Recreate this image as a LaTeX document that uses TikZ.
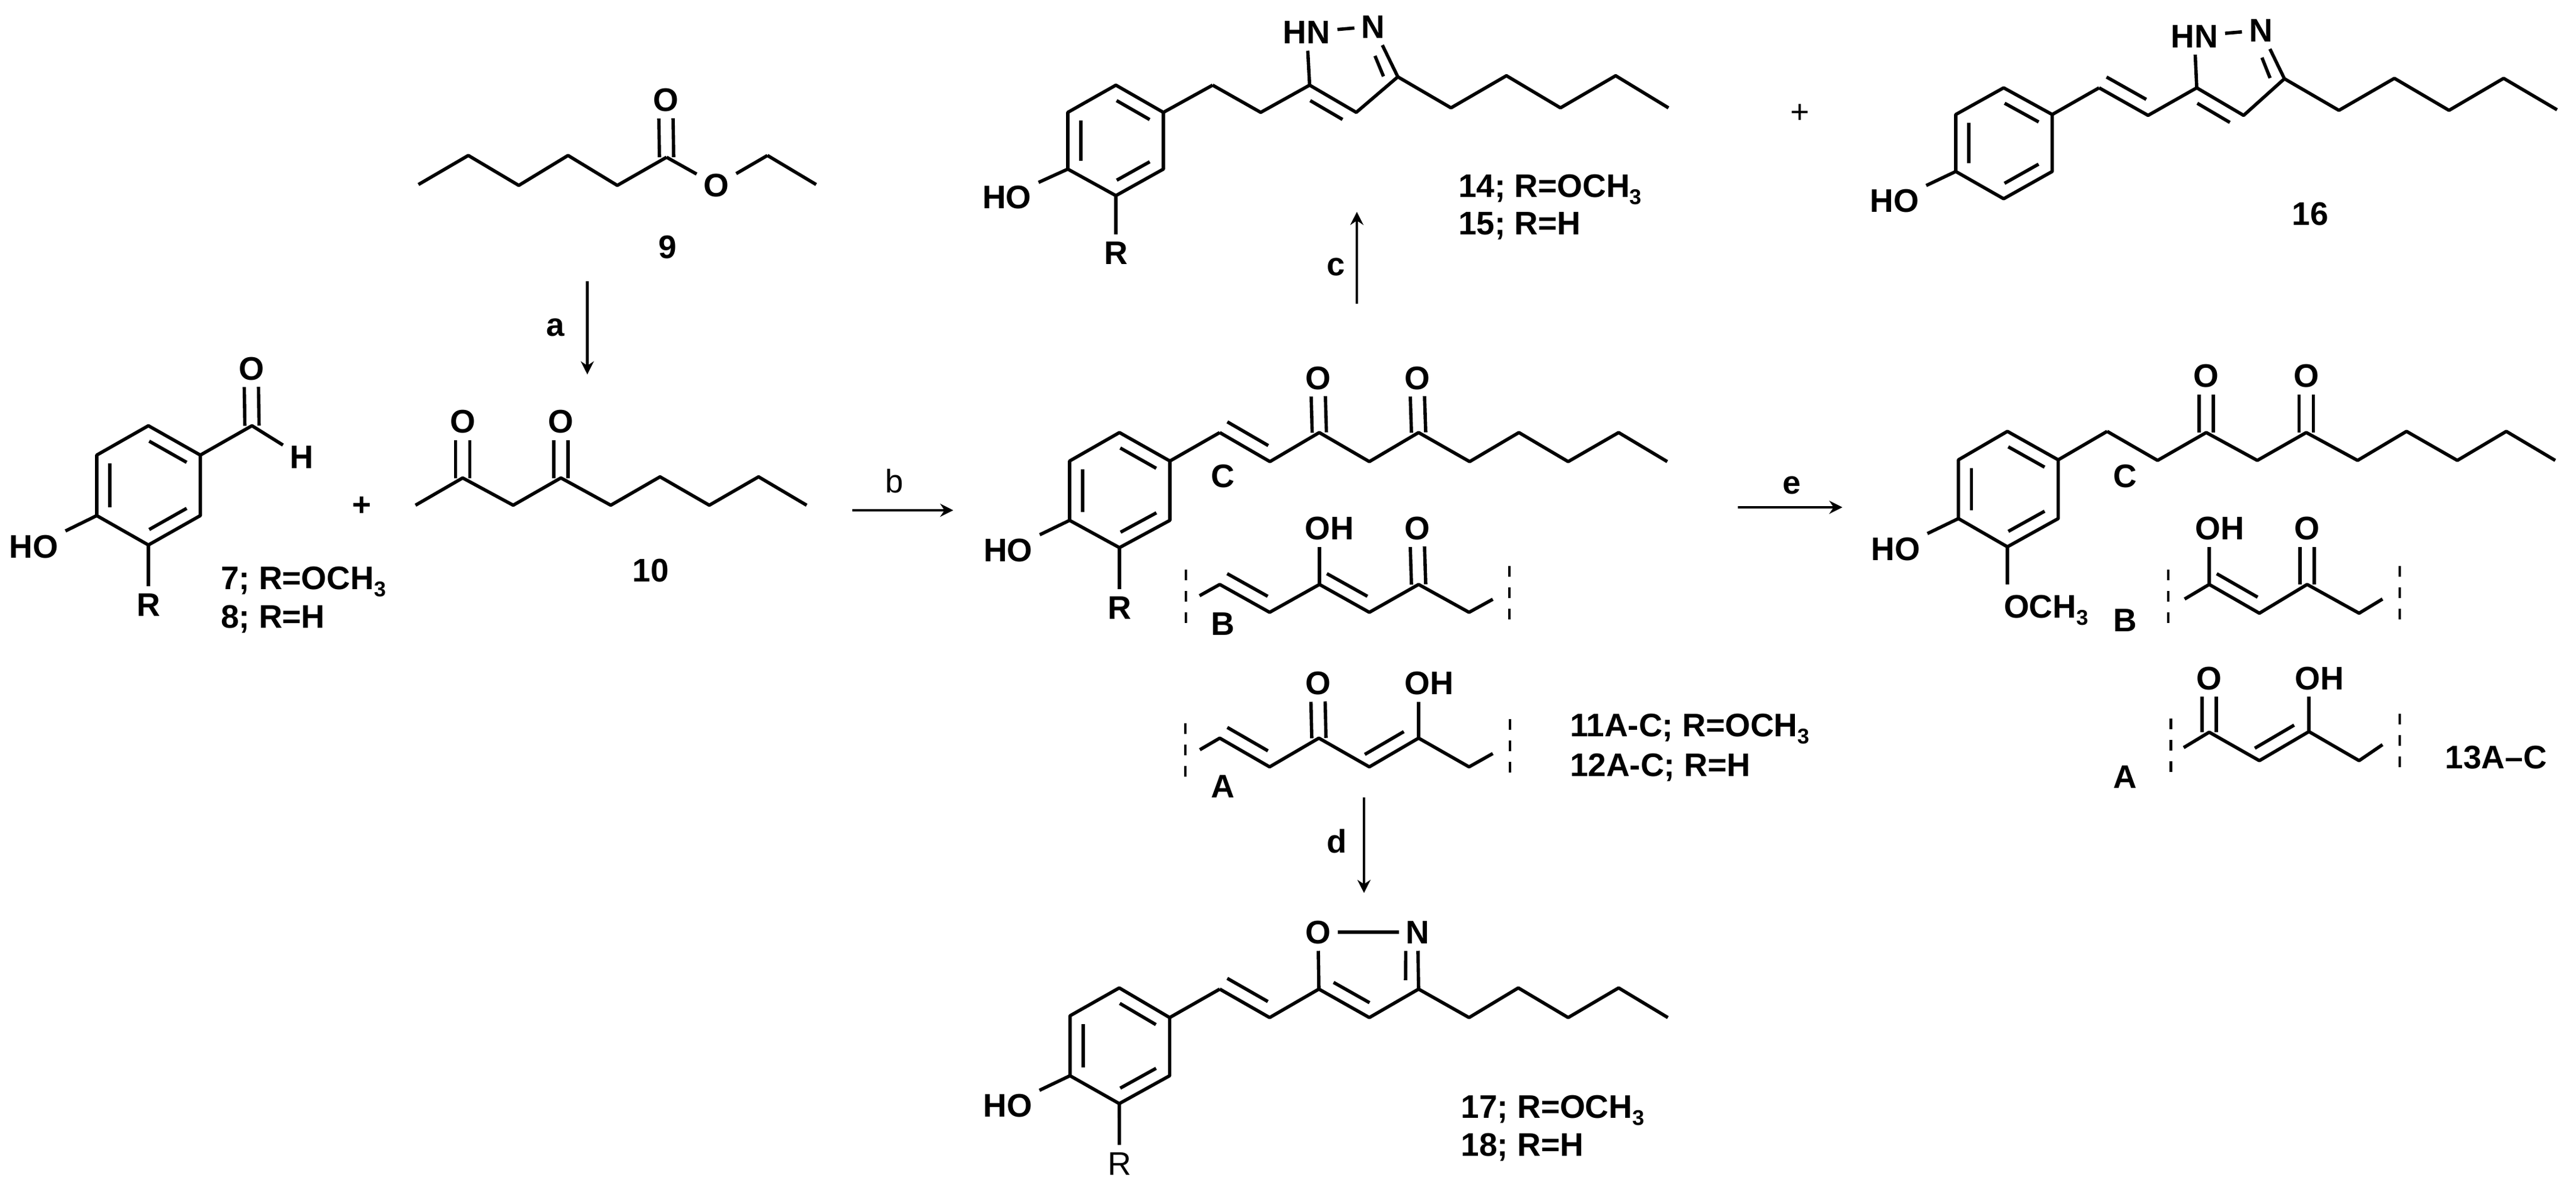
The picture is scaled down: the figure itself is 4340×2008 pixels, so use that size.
\documentclass[tikz,border=0pt]{standalone}
\usepackage{fontspec}
\setmainfont{Liberation Sans}
\usetikzlibrary{calc,arrows.meta}
\newcommand\atoms[2]{\foreach \xx/\yy [count=\ii] in {#2} {\coordinate (#1\ii) at (\xx,\yy);}}
\newcommand\chain[3]{\draw[bond] (#1#2) \foreach \ii in {#2,...,#3} { -- (#1\ii)};}
\newcommand\inL[4]{\draw[bond] ($(#1)!#3pt!(#2)!11pt!90:(#2)$) -- ($(#2)!#4pt!(#1)!11pt!-90:(#1)$);}
\newcommand\inR[4]{\draw[bond] ($(#1)!#3pt!(#2)!11pt!-90:(#2)$) -- ($(#2)!#4pt!(#1)!11pt!90:(#1)$);}
\newcommand\dbo[2]{\draw[bond] ($(#1)!6pt!90:(#2.south)$) -- ($(#2.south)!6pt!-90:(#1)$);
  \draw[bond] ($(#1)!6pt!-90:(#2.south)$) -- ($(#2.south)!6pt!90:(#1)$);}
\newcommand\ringc[1]{\draw[bond] (#11)--(#12)--(#13)--(#14)--(#15)--(#16)--cycle;
  \inR{#11}{#12}{7}{7}\inR{#13}{#14}{7}{7}\inR{#15}{#16}{7}{7}}
\newcommand\subt[1]{\raisebox{-0.22em}{\fontsize{18}{18}\selectfont #1}}
\tikzset{
  bond/.style={line width=2.8pt,line cap=butt,line join=round,black},
  atom/.style={inner sep=0pt,outer sep=6pt,text height=19.5pt,text depth=0pt,font=\fontsize{27.5}{30}\selectfont\bfseries},
  atomreg/.style={atom,font=\fontsize{27.5}{30}\selectfont},
  lab/.style={atom,outer sep=0pt},
  labw/.style={lab,anchor=west},
  lowc/.style={lab,text height=14.5pt},
  lowreg/.style={lowc,font=\fontsize{27.5}{30}\selectfont},
  reac/.style={line width=2.3pt,-{Stealth[length=11pt,width=11pt]}},
  cut/.style={line width=2.4pt,dash pattern=on 9pt off 9pt}
}
\begin{document}
\begin{tikzpicture}[x=0.5pt,y=-0.5pt]
\useasboundingbox (0,0) rectangle (4340,2008);
% ---- 9
\atoms{e}{705/311,789/262,874/312.5,957/262,1040/312.5,1123/265,1293/262,1375/311}
\node[atom] (Oe1) at (1122,168) {O};
\node[atom] (Oe2) at (1207,312) {O};
\chain{e}{1}{6}\chain{e}{7}{8}
\dbo{e6}{Oe1}
\draw[bond] (e6)--(Oe2);\draw[bond] (Oe2)--(e7);
\node[lab] (l9) at (1125,416) {9};
% ---- arrow a
\coordinate (aS) at (989.5,474);\coordinate (aE) at (989.5,631);
\draw[reac] (aS)--(aE);
\node[lowc] (la) at (936,552) {a};
% ---- 7/8
\atoms{v}{250/717.5,337.5/767,337.5/869,250/918.5,163/869,163/767}
\ringc{v}
\coordinate (vc) at (424.5,717.5);
\node[atom] (vO) at (423.5,620.6) {O};
\node[atom] (vH) at (508.6,770) {H};
\node[atom] (vHO) at (57,921) {HO};
\node[atom] (vR) at (250,1019) {R};
\draw[bond] (v2)--(vc)--(vH);
\dbo{vc}{vO}
\draw[bond] (v5)--(vHO);\draw[bond] (v4)--(vR);
\node[labw] (l7) at (372,974) {7; R=OCH\subt{3}};
\node[labw] (l8) at (372,1039) {8; R=H};
\node[lab] (plus1) at (610,850) {+};
% ---- 10
\atoms{d}{700/851.5,779.5/805.5,864.6/851.5,945/805.5,1029/851.5,1112/803.6,1195/851.5,1278/803.6,1359/851.5}
\chain{d}{1}{9}
\node[atom] (dO1) at (779.5,710) {O};
\node[atom] (dO2) at (945,710) {O};
\dbo{d2}{dO1}\dbo{d4}{dO2}
\node[lab] (l10) at (1096,961) {10};
% ---- arrow b
\coordinate (bS) at (1436,860);\coordinate (bE) at (1606,860);
\draw[reac] (bS)--(bE);
\node[atomreg,outer sep=0pt] (lb) at (1507,811) {b};
% ---- 14/15
\atoms{p}{1880/143.5,1960/189.4,1960/285,1880/329.7,1799/285,1799/189.4}
\ringc{p}
\atoms{q}{2043/143.5,2124/189.4,2206.4/143.5,2285/189.4,2355/129.5,2444.6/181.8,2538/127.6,2629/181.8,2722/127.6,2811/181.8}
\draw[bond] (p2)--(q1);\chain{q}{1}{10}
\node[atom] (qHN) at (2201.6,54) {HN};
\node[atom] (qN) at (2313.6,44.6) {N};
\coordinate (qNb) at (2333,76.5);
\draw[bond] (q3)--(qHN);\draw[bond] (qHN)--(qN);\draw[bond] (q5)--(qN);
\inL{q5}{qNb}{5}{5}
\inL{q4}{q3}{7}{7}
\node[atom] (pHO) at (1696.5,331.6) {HO};
\node[atom] (pR) at (1880,426) {R};
\draw[bond] (p5)--(pHO);\draw[bond] (p4)--(pR);
\node[labw] (l14) at (2457,312.5) {14; R=OCH\subt{3}};
\node[labw] (l15) at (2457,376) {15; R=H};
% ---- arrow c
\coordinate (cS) at (2286,511.5);\coordinate (cE) at (2286,357);
\draw[reac] (cS)--(cE);
\node[lowc] (lc) at (2251,450) {c};
% ---- 16
\node[atomreg,outer sep=0pt] (plus2) at (3033,188) {+};
\atoms{s}{3375.7/148,3457.5/193,3457.5/289,3375.7/335,3295/289,3295/193}
\ringc{s}
\atoms{t}{3536.5/148,3619/194.5,3701/148,3780/194.5,3848.7/132.7,3940.5/186,4034/132,4126/186,4218/132,4308/185}
\draw[bond] (s2)--(t1);\chain{t}{1}{10}
\inL{t1}{t2}{1}{8}
\node[atom] (tHN) at (3697,60.6) {HN};
\node[atom] (tN) at (3809,51) {N};
\coordinate (tNb) at (3827.6,79.7);
\draw[bond] (t3)--(tHN);\draw[bond] (tHN)--(tN);\draw[bond] (t5)--(tN);
\inL{t5}{tNb}{5}{5}
\inL{t4}{t3}{7}{7}
\node[atom] (sHO) at (3192,338) {HO};
\draw[bond] (s5)--(sHO);
\node[lab] (l16) at (3892,360) {16};
% ---- 11/12 C
\atoms{g}{1886/729,1971/777,1971/877,1886/923,1802/877,1802/777}
\ringc{g}
\atoms{h}{2055/729,2139.5/778,2222.7/729,2307/778,2390/729,2476/778,2559/729,2642/778,2727/729,2809/778}
\draw[bond] (g2)--(h1);\chain{h}{1}{10}
\inL{h1}{h2}{1}{8}
\node[atom] (hO1) at (2221,636.5) {O};
\node[atom] (hO2) at (2388,636.5) {O};
\dbo{h3}{hO1}\dbo{h5}{hO2}
\node[lab] (lC1) at (2060,802) {C};
\node[atom] (gHO) at (1698.5,927) {HO};
\node[atom] (gR) at (1886,1024) {R};
\draw[bond] (g5)--(gHO);\draw[bond] (g4)--(gR);
% ---- B of 11/12
\atoms{k}{2021/1004,2055/985,2139/1032,2223/985,2307/1032,2390/985,2475/1032,2515/1010}
\chain{k}{1}{8}
\inL{k2}{k3}{1}{8}\inL{k4}{k5}{1}{8}
\node[atom] (kOH) at (2240,890) {OH};
\node[atom] (kO) at (2388,890) {O};
\draw[bond] (k4)--(k4|-kOH.south);\dbo{k6}{kO}
\coordinate (kd1) at (1998,960);\coordinate (kd2) at (1998,1055);
\coordinate (kd3) at (2543,953.5);\coordinate (kd4) at (2543,1048);
\draw[cut] (kd1)--(kd2);\draw[cut] (kd3)--(kd4);
\node[lab] (lB1) at (2060,1051) {B};
% ---- A of 11/12
\atoms{m}{2021.5/1263.6,2055/1244,2139/1292.5,2222/1244,2307/1292.5,2390/1244,2475/1292.5,2515/1270}
\chain{m}{1}{8}
\inL{m2}{m3}{1}{8}\inL{m5}{m6}{2}{8}
\node[atom] (mO) at (2220.6,1151) {O};
\node[atom] (mOH) at (2408,1151) {OH};
\dbo{m4}{mO}\draw[bond] (m6)--(m6|-mOH.south);
\coordinate (md1) at (1997,1218.6);\coordinate (md2) at (1997,1315);
\coordinate (md3) at (2544,1212);\coordinate (md4) at (2544,1308.6);
\draw[cut] (md1)--(md2);\draw[cut] (md3)--(md4);
\node[lab] (lA1) at (2060,1325) {A};
\node[labw] (l11) at (2645,1222) {11A-C; R=OCH\subt{3}};
\node[labw] (l12) at (2645,1289) {12A-C; R=H};
% ---- arrow d
\coordinate (dS) at (2298,1344);\coordinate (dE) at (2298,1505);
\draw[reac] (dS)--(dE);
\node[lab] (ld) at (2252,1418) {d};
% ---- 17/18
\atoms{w}{1885.7/1665,1970.6/1715,1970.6/1813,1885.7/1860,1802.7/1813,1802.7/1712}
\ringc{w}
\atoms{y}{2055/1667,2139/1715,2222/1667,2307/1715,2390/1667,2475/1715,2558/1665,2642/1715,2727/1665,2810/1715}
\draw[bond] (w2)--(y1);\chain{y}{1}{10}
\inL{y1}{y2}{1}{8}\inL{y3}{y4}{8}{6}
\node[atom] (yO) at (2220.6,1571) {O};
\node[atom] (yN) at (2388.4,1571) {N};
\draw[bond] (y3)--(yO);\draw[bond] (yO)--(yN);\draw[bond] (y5)--(yN);
\draw[bond] ($(y5)+(-22,-15)$)--($(yN.south)+(-20,0)$);
\node[atom] (wHO) at (1698,1863) {HO};
\node[atomreg] (wR) at (1886,1961) {R};
\draw[bond] (w5)--(wHO);\draw[bond] (w4)--(wR);
\node[labw] (l17) at (2461.6,1865) {17; R=OCH\subt{3}};
\node[labw] (l18) at (2461.6,1929) {18; R=H};
% ---- arrow e
\coordinate (eS) at (2927.5,855);\coordinate (eE) at (3104,855);
\draw[reac] (eS)--(eE);
\node[lowc] (le) at (3019,818) {e};
% ---- 13 C
\atoms{u}{3382/727,3467.6/775,3467.6/874,3382/921.6,3299.5/874,3299.5/775}
\ringc{u}
\atoms{z}{3550/727,3635/776,3717/729,3803/776,3885.5/729,3972/776,4054.4/727,4140/776,4222.5/727,4305/776}
\draw[bond] (u2)--(z1);\chain{z}{1}{10}
\node[atom] (zO1) at (3717,633) {O};
\node[atom] (zO2) at (3885.5,633) {O};
\dbo{z3}{zO1}\dbo{z5}{zO2}
\node[lab] (lC2) at (3580,802) {C};
\node[atom] (uHO) at (3194,925) {HO};
\draw[bond] (u5)--(uHO);
\node[labw,outer sep=6pt] (uOMe) at (3364,1022) {OCH\subt{3}};
\coordinate (uOb) at (3382,985);
\draw[bond] (u4)--(uOb);
% ---- B of 13
\atoms{f}{3680.6/1009.6,3722/985,3806.5/1033.5,3887/985,3974.5/1033.5,4014/1009.6}
\chain{f}{1}{6}
\inL{f2}{f3}{1}{8}
\node[atom] (fOH) at (3740,890) {OH};
\node[atom] (fO) at (3887,890) {O};
\draw[bond] (f2)--(f2|-fOH.south);\dbo{f4}{fO}
\coordinate (fd1) at (3653,960);\coordinate (fd2) at (3653,1054);
\coordinate (fd3) at (4043,953.5);\coordinate (fd4) at (4043,1048);
\draw[cut] (fd1)--(fd2);\draw[cut] (fd3)--(fd4);
\node[lab] (lB2) at (3580,1045) {B};
% ---- A of 13
\atoms{r}{3679/1260,3722/1234,3806.5/1282,3890/1233,3974.5/1282,4014/1255}
\chain{r}{1}{6}
\inL{r3}{r4}{2}{8}
\node[atom] (rO) at (3722,1142.5) {O};
\node[atom] (rOH) at (3908,1142.5) {OH};
\dbo{r2}{rO}\draw[bond] (r4)--(r4|-rOH.south);
\coordinate (rd1) at (3657.7,1210.5);\coordinate (rd2) at (3657.7,1301);
\coordinate (rd3) at (4043,1202.5);\coordinate (rd4) at (4043,1295);
\draw[cut] (rd1)--(rd2);\draw[cut] (rd3)--(rd4);
\node[lab] (lA2) at (3580,1309) {A};
\node[labw] (l13) at (4119.6,1276) {13A--C};
\end{tikzpicture}
\end{document}
